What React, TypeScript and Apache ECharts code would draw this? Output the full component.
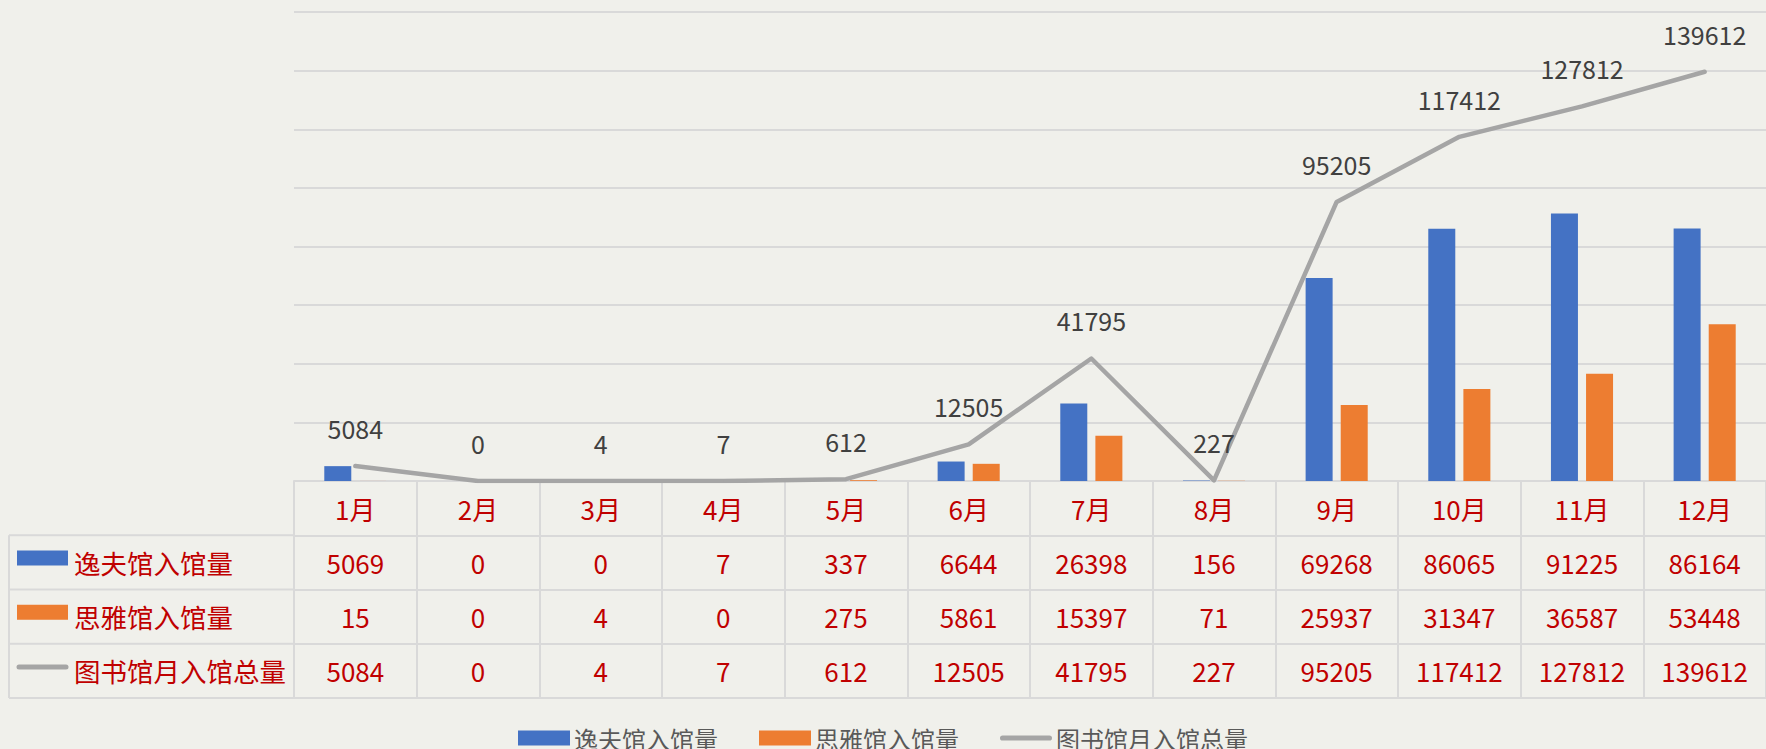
import React, { useEffect, useRef } from "react";
import * as echarts from "echarts";

const months = ["1月", "2月", "3月", "4月", "5月", "6月", "7月", "8月", "9月", "10月", "11月", "12月"];
const yifu = [5069, 0, 0, 7, 337, 6644, 26398, 156, 69268, 86065, 91225, 86164];
const siya = [15, 0, 4, 0, 275, 5861, 15397, 71, 25937, 31347, 36587, 53448];
const total = [5084, 0, 4, 7, 612, 12505, 41795, 227, 95205, 117412, 127812, 139612];
const seriesNames = ["逸夫馆入馆量", "思雅馆入馆量", "图书馆月入馆总量"];
const yMax = 160000;
const yInterval = 20000;

const W = 1766;
const H = 749;
const FONT = "'Noto Sans CJK SC', 'Noto Sans', sans-serif";
const BG = "#F0F0EB";
const BORDER = "#D9D9D9";
const RED = "#C00000";
const BLUE = "#4472C4";
const ORANGE = "#ED7D31";
const GREY = "#A5A5A5";

const gridLeft = 294;
const gridTop = 12;
const axisY = 481;
const rowH = 54.25;
const tableLeft = 9;
const LINE_ICON = "path://M5,0 L95,0 A5,5 0 0 1 95,10 L5,10 A5,5 0 0 1 5,0 Z";

export default function App() {
  const ref = useRef<HTMLDivElement>(null);

  useEffect(() => {
    if (!ref.current) return;
    const chart = echarts.init(ref.current, undefined, { renderer: "svg" });

    const tableAxis = (data: string[], offset: number) => ({
      type: "category",
      gridIndex: 0,
      position: "bottom",
      offset,
      data,
      axisLine: { show: true, lineStyle: { color: BORDER, width: 2 } },
      axisTick: { show: true, interval: 0, length: rowH, lineStyle: { color: BORDER, width: 2 } },
      axisLabel: {
        interval: 0,
        color: RED,
        fontSize: 26,
        fontFamily: FONT,
        margin: rowH / 2,
        verticalAlign: "middle",
      },
      splitLine: { show: false },
    });

    const rowCenters = [1, 2, 3].map((i) => axisY + rowH * i + rowH / 2);
    const graphics: any[] = [];
    for (let i = 1; i <= 4; i++) {
      graphics.push({
        type: "line",
        shape: { x1: tableLeft, y1: axisY + rowH * i, x2: i === 4 ? W : gridLeft, y2: axisY + rowH * i },
        style: { stroke: BORDER, lineWidth: 2 },
      });
    }
    graphics.push({
      type: "line",
      shape: { x1: tableLeft, y1: axisY + rowH, x2: tableLeft, y2: axisY + rowH * 4 },
      style: { stroke: BORDER, lineWidth: 2 },
    });
    graphics.push({
      type: "rect",
      shape: { x: 17, y: rowCenters[0] - 12, width: 51, height: 15 },
      style: { fill: BLUE },
    });
    graphics.push({
      type: "rect",
      shape: { x: 17, y: rowCenters[1] - 12, width: 51, height: 15 },
      style: { fill: ORANGE },
    });
    graphics.push({
      type: "line",
      shape: { x1: 19, y1: rowCenters[2] - 4, x2: 66, y2: rowCenters[2] - 4 },
      style: { stroke: GREY, lineWidth: 5, lineCap: "round" },
    });
    seriesNames.forEach((n, i) => {
      graphics.push({
        type: "text",
        x: 74,
        y: rowCenters[i],
        style: {
          text: n,
          fill: RED,
          fontSize: 26.5,
          fontFamily: FONT,
          verticalAlign: "middle",
          align: "left",
        },
      });
    });

    chart.setOption({
      animation: false,
      backgroundColor: BG,
      textStyle: { fontFamily: FONT },
      grid: { left: gridLeft, right: 0, top: gridTop, bottom: H - axisY },
      legend: {
        top: 721,
        left: "center",
        itemWidth: 52,
        itemHeight: 15,
        itemGap: 41,
        textStyle: { color: "#595959", fontSize: 24, fontFamily: FONT, padding: [0, 0, 0, -1] },
        data: [
          { name: seriesNames[0], icon: "rect" },
          { name: seriesNames[1], icon: "rect" },
          { name: seriesNames[2], icon: LINE_ICON },
        ],
      },
      xAxis: [
        {
          type: "category",
          data: months,
          position: "bottom",
          axisLine: { show: true, lineStyle: { color: BORDER, width: 2 } },
          axisTick: { show: true, interval: 0, length: rowH, lineStyle: { color: BORDER, width: 2 } },
          axisLabel: {
            interval: 0,
            color: RED,
            fontSize: 26,
            fontFamily: FONT,
            margin: rowH / 2,
            verticalAlign: "middle",
          },
        },
        tableAxis(yifu.map(String), rowH),
        tableAxis(siya.map(String), rowH * 2),
        tableAxis(total.map(String), rowH * 3),
      ],
      yAxis: {
        type: "value",
        min: 0,
        max: yMax,
        interval: yInterval,
        axisLabel: { show: false },
        axisLine: { show: false },
        axisTick: { show: false },
        splitLine: { lineStyle: { color: BORDER, width: 2 } },
      },
      graphic: graphics,
      series: [
        {
          name: seriesNames[0],
          type: "bar",
          data: yifu,
          barWidth: 27,
          barGap: "30%",
          itemStyle: { color: BLUE },
        },
        {
          name: seriesNames[1],
          type: "bar",
          data: siya,
          barWidth: 27,
          barGap: "30%",
          itemStyle: { color: ORANGE },
        },
        {
          name: seriesNames[2],
          type: "line",
          data: total,
          symbol: "circle",
          symbolSize: 1,
          itemStyle: { color: GREY },
          lineStyle: { color: GREY, width: 4.5, cap: "round", join: "round" },
          label: {
            show: true,
            position: "top",
            distance: 25,
            color: "#404040",
            fontSize: 25,
            fontFamily: FONT,
          },
          z: 3,
        },
      ],
    });

    return () => chart.dispose();
  }, []);

  return (
    <div
      ref={ref}
      style={{ position: "fixed", left: 0, top: 0, width: W, height: H, background: BG }}
    />
  );
}
